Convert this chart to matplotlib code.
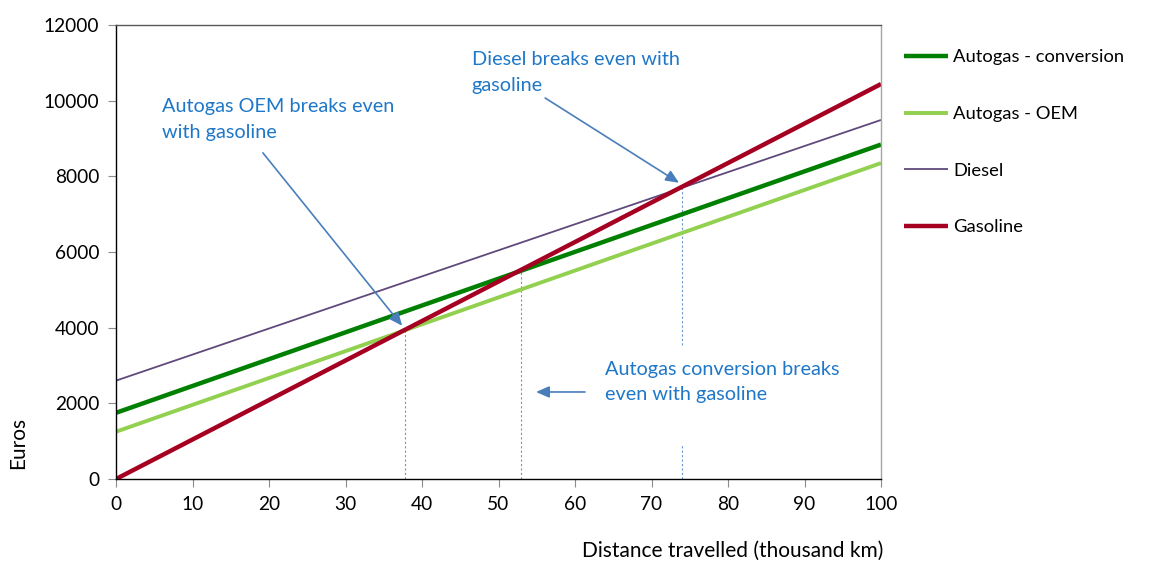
import matplotlib
matplotlib.use("Agg")
import matplotlib.pyplot as plt

plt.rcParams['font.family'] = ['Lato', 'DejaVu Sans']

# distance in thousand km, cumulative cost in euros
distance = [0, 100]
autogas_conv = [1750, 8840]
autogas_oem = [1250, 8350]
diesel = [2600, 9490]
gasoline = [0, 10440]

# break-even points with gasoline (thousand km, euros)
oem_even = (37.8, 3950)
conv_even = (53.0, 5530)
diesel_even = (74.0, 7700)

text_blue = '#1f77c8'
arrow_blue = '#4a7ebb'
dash_blue = '#6a96cf'

fig = plt.figure(figsize=(11.5, 5.63), dpi=100)
ax = fig.add_axes([0.1009, 0.1492, 0.6652, 0.8064])

ax.plot(distance, autogas_conv, color='#008000', lw=3.2, label='Autogas - conversion', solid_capstyle='butt')
ax.plot(distance, autogas_oem, color='#92d050', lw=2.8, label='Autogas - OEM', solid_capstyle='butt')
ax.plot(distance, diesel, color='#604a7b', lw=1.3, label='Diesel', solid_capstyle='butt')
ax.plot(distance, gasoline, color='#a50021', lw=3.2, label='Gasoline', solid_capstyle='butt')

# dashed drop lines at the break-even distances
ax.plot([oem_even[0]] * 2, [0, oem_even[1]], color=dash_blue, lw=0.8, ls=(0, (2, 2)), zorder=1)
ax.plot([conv_even[0]] * 2, [0, conv_even[1]], color=dash_blue, lw=0.8, ls=(0, (2, 2)), zorder=1)
ax.plot([diesel_even[0]] * 2, [3540, diesel_even[1]], color=dash_blue, lw=0.8, ls=(0, (2, 2)), zorder=1)
ax.plot([diesel_even[0]] * 2, [0, 900], color=dash_blue, lw=0.8, ls=(0, (2, 2)), zorder=1)

fs = 13.8
note_fs = 14.3
ax.text(6.0, 10060, 'Autogas OEM breaks even\nwith gasoline', color=text_blue, fontsize=note_fs,
        va='top', ha='left', linespacing=1.6)
ax.text(46.5, 11310, 'Diesel breaks even with\ngasoline', color=text_blue, fontsize=note_fs,
        va='top', ha='left', linespacing=1.6)
ax.text(63.9, 3130, 'Autogas conversion breaks\neven with gasoline', color=text_blue, fontsize=note_fs,
        va='top', ha='left', linespacing=1.6)

arrow = dict(arrowstyle='-|>,head_length=0.8,head_width=0.35', color=arrow_blue, lw=1.2,
             shrinkA=0, shrinkB=0)
ax.annotate('', xy=(37.4, 4050), xytext=(19.2, 8620), arrowprops=arrow)
ax.annotate('', xy=(73.6, 7830), xytext=(56.1, 10070), arrowprops=arrow)
ax.annotate('', xy=(54.9, 2300), xytext=(61.3, 2300), arrowprops=arrow)

ax.set_xlim(0, 100)
ax.set_ylim(0, 12000)
ax.set_xticks(range(0, 101, 10))
ax.set_yticks(range(0, 12001, 2000))
ax.tick_params(axis='both', direction='out', length=6, color='#8c8c8c', labelsize=fs,
               labelcolor='black', pad=6)

ax.spines['left'].set_color('black')
ax.spines['bottom'].set_color('black')
ax.spines['top'].set_color('#595959')
ax.spines['right'].set_color('#a6a6a6')
for s in ax.spines.values():
    s.set_linewidth(1.0)

fig.text(0.0157, 0.213, 'Euros', fontsize=15, rotation=90, ha='center', va='center')
fig.text(0.637, 0.021, 'Distance travelled (thousand km)', fontsize=15, ha='center', va='center')

ax.legend(loc='upper left', bbox_to_anchor=(1.02, 0.9626), frameon=False, fontsize=13.2,
          handlelength=2.4, handletextpad=0.3, labelspacing=2.22, borderaxespad=0)

fig.savefig('out.png', dpi=100)
